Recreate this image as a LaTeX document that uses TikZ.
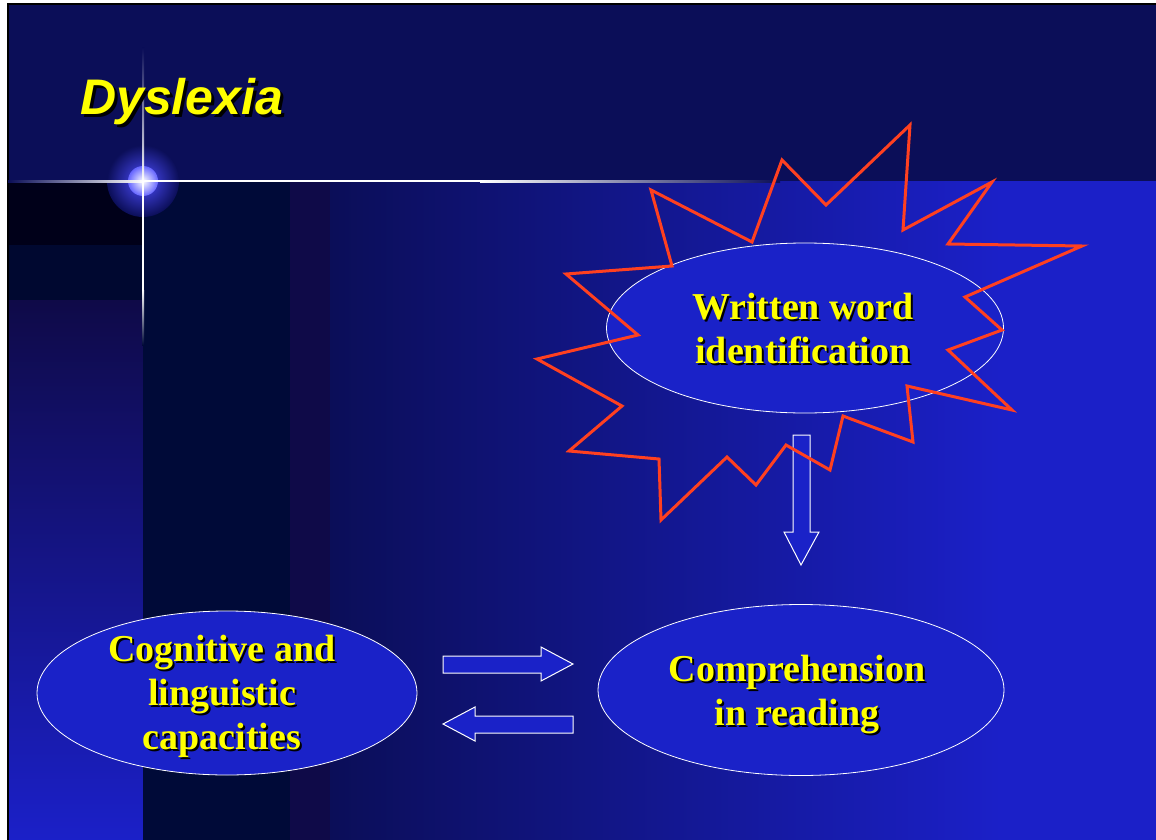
\documentclass[tikz,border=0pt]{standalone}
\usepackage{fontspec}
\setmainfont{Liberation Serif}
\newfontfamily\titlefont{Liberation Sans}
\usetikzlibrary{shapes.geometric}

\definecolor{bandblue}{HTML}{0B0E58}
\definecolor{deepblue}{HTML}{000A38}
\definecolor{plumblue}{HTML}{0F0A48}
\definecolor{brightblue}{HTML}{1B20C8}
\definecolor{ovalblue}{HTML}{1A22C8}
\definecolor{burstred}{HTML}{FF4020}
\definecolor{slideyellow}{HTML}{FFFF00}

\newcommand{\shd}[1]{\makebox[0pt][l]{\hspace{2pt}\raisebox{-2pt}{\color{black}#1}}#1}
\newcommand{\bigshd}[1]{\makebox[0pt][l]{\hspace{3pt}\raisebox{-3pt}{\color{black}#1}}#1}

\begin{document}
\begin{tikzpicture}[x=1pt,y=-1pt,
  oval/.style = {draw=white, line width=0.8pt, fill=ovalblue, ellipse, inner sep=0pt},
  txt/.style = {text=slideyellow, align=center, inner sep=0pt, font=\fontsize{38}{44}\selectfont\bfseries},
  blockarrow/.style = {draw=white, line width=1pt, fill=ovalblue, line join=miter},
  burst/.style = {draw=burstred, line width=3pt, line join=miter}]
\useasboundingbox (0,0) rectangle (1156,840);
\fill[white] (0,0) rectangle (1156,840);
% background
\fill[bandblue] (8,4) rectangle (1156,181);
\fill[brightblue] (8,181) rectangle (1156,840);
\fill[black!90!blue] (8,181) rectangle (143,245);
\fill[deepblue!85!black] (8,245) rectangle (143,300);
\shade[top color=plumblue, bottom color=brightblue] (8,300) rectangle (143,840);
\fill[deepblue] (143,181) rectangle (290,840);
\fill[plumblue] (290,181) rectangle (330,840);
\shade[left color=bandblue, right color=brightblue] (330,181) rectangle (1000,840);
\draw[black, line width=2pt] (8,840) -- (8,4) -- (1156,4);
% glow
\shade[inner color=blue!70!white, outer color=bandblue] (143,181) circle (36);
\shade[inner color=white, outer color=blue!60!white] (143,181) circle (15);
\shade[left color=bandblue, right color=white] (8,180) rectangle (143,182);
\fill[white] (143,180) rectangle (480,182);
\shade[left color=white, right color=bandblue] (480,180) rectangle (780,182);
\shade[top color=bandblue, bottom color=white] (142,48) rectangle (144,181);
\fill[white] (142,181) rectangle (144,290);
\shade[top color=white, bottom color=deepblue] (142,290) rectangle (144,345);
% title
\node[text=slideyellow, anchor=base west, inner sep=0pt,
      font=\titlefont\fontsize{50}{60}\selectfont\bfseries\itshape] (title) at (80,115) {\bigshd{Dyslexia}};
% ovals
\node[oval, minimum width=397pt, minimum height=170pt] (wwi) at (805,328) {};
\node[oval, minimum width=406pt, minimum height=171pt] (comp) at (801,690) {};
\node[oval, minimum width=380pt, minimum height=164pt] (cog) at (227,693) {};
% arrows
\draw[blockarrow] (793,435) -- (810,435) -- (810,532) -- (819,532) -- (801,565) -- (784,532) -- (793,532) -- cycle;
\draw[blockarrow] (443,656) -- (541,656) -- (541,647) -- (573,664) -- (541,681) -- (541,673) -- (443,673) -- cycle;
\draw[blockarrow] (573,716) -- (475,716) -- (475,707) -- (443,724) -- (475,741) -- (475,733) -- (573,733) -- cycle;
% burst
\draw[burst] (910,125) -- (903,230) -- (992,182) -- (948,244) -- (1082,246) -- (965,297)
  -- (1002,330) -- (948,350) -- (1012,410) -- (907,386) -- (913,442) -- (843,416)
  -- (830,470) -- (786,445) -- (756,485) -- (727,457) -- (661,520) -- (659,459)
  -- (569,451) -- (622,406) -- (537,359) -- (638,335) -- (566,274) -- (672,266)
  -- (651,190) -- (752,242) -- (782,160) -- (826,205) -- cycle;
% labels
\node[txt] (wwitxt) at (803,329) {\shd{Written word}\\\shd{identification}};
\node[txt] (comptxt) at (797,696) {\shd{Comprehension}\\\shd{in reading}};
\node[txt] (cogtxt) at (222,697) {\shd{Cognitive and}\\\shd{linguistic}\\\shd{capacities}};
\end{tikzpicture}
\end{document}
